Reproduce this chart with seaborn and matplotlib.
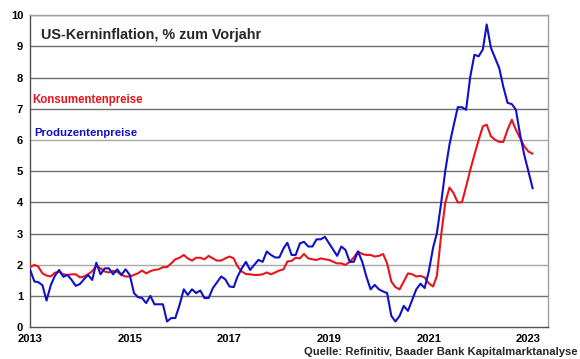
import numpy as np
import pandas as pd
import matplotlib
matplotlib.use('Agg')
import matplotlib.pyplot as plt
import matplotlib.dates as mdates
import seaborn as sns

# monthly values, Jan 2013 .. Feb 2023
months = pd.date_range('2013-01-01', '2023-02-01', freq='MS')

konsumentenpreise = [
    1.93, 2.00, 1.95, 1.73, 1.66, 1.63, 1.75, 1.78, 1.70, 1.68, 1.70, 1.70,
    1.60, 1.63, 1.70, 1.80, 1.97, 1.89, 1.79, 1.76, 1.81, 1.78, 1.68, 1.63,
    1.63, 1.68, 1.73, 1.82, 1.73, 1.80, 1.84, 1.86, 1.93, 1.93, 2.05, 2.18,
    2.23, 2.32, 2.21, 2.14, 2.23, 2.23, 2.18, 2.29, 2.21, 2.14, 2.14, 2.21,
    2.27, 2.21, 1.95, 1.79, 1.71, 1.70, 1.68, 1.68, 1.70, 1.76, 1.70, 1.76,
    1.82, 1.86, 2.11, 2.13, 2.23, 2.21, 2.35, 2.21, 2.18, 2.16, 2.21, 2.18,
    2.16, 2.10, 2.05, 2.05, 2.00, 2.10, 2.24, 2.43, 2.35, 2.32, 2.32, 2.27,
    2.29, 2.35, 2.05, 1.47, 1.29, 1.22, 1.47, 1.73, 1.70, 1.63, 1.65, 1.60,
    1.41, 1.31, 1.65, 2.95, 3.98, 4.48, 4.30, 4.00, 4.01, 4.51, 5.05, 5.53,
    6.00, 6.44, 6.49, 6.12, 6.01, 5.94, 5.94, 6.33, 6.65, 6.33, 6.06, 5.80,
    5.63, 5.56,
]

produzentenpreise = [
    1.84, 1.47, 1.45, 1.35, 0.86, 1.35, 1.65, 1.84, 1.62, 1.68, 1.52, 1.33,
    1.39, 1.55, 1.68, 1.52, 2.07, 1.70, 1.89, 1.89, 1.70, 1.86, 1.68, 1.86,
    1.68, 1.10, 0.97, 0.94, 0.78, 1.01, 0.74, 0.74, 0.74, 0.19, 0.30, 0.30,
    0.72, 1.22, 1.04, 1.22, 1.10, 1.18, 0.94, 0.94, 1.26, 1.44, 1.63, 1.54,
    1.31, 1.29, 1.63, 1.89, 2.10, 1.84, 2.00, 2.16, 2.10, 2.43, 2.32, 2.24,
    2.24, 2.53, 2.71, 2.32, 2.32, 2.69, 2.74, 2.59, 2.59, 2.82, 2.82, 2.90,
    2.69, 2.48, 2.29, 2.59, 2.48, 2.10, 2.10, 2.43, 2.10, 1.63, 1.22, 1.36,
    1.22, 1.15, 1.10, 0.37, 0.19, 0.37, 0.69, 0.53, 0.88, 1.22, 1.40, 1.26,
    1.80, 2.55, 3.02, 3.98, 5.00, 5.85, 6.45, 7.05, 7.05, 6.97, 8.04, 8.73,
    8.68, 8.90, 9.70, 8.95, 8.63, 8.30, 7.70, 7.19, 7.15, 6.97, 6.17, 5.53,
    4.99, 4.45,
]

series_names = ['Konsumentenpreise', 'Produzentenpreise']
title = 'US-Kerninflation, % zum Vorjahr'
source = 'Quelle: Refinitiv, Baader Bank Kapitalmarktanalyse'
year_ticks = [2013, 2015, 2017, 2019, 2021, 2023]
y_ticks = list(range(0, 11))

df = pd.DataFrame({
    'Datum': list(months) * 2,
    'Wert': konsumentenpreise + produzentenpreise,
    'Reihe': [series_names[0]] * len(months) + [series_names[1]] * len(months),
})

sns.set_style('white')
plt.rcParams['font.family'] = ['Liberation Sans', 'DejaVu Sans']

red = '#e8141c'
blue = '#1010c8'

fig = plt.figure(figsize=(5.8, 3.59), dpi=100)
ax = fig.add_axes([0.052, 0.088, 0.893, 0.870])

for y in y_ticks[1:]:
    ax.axhline(y, color='#a8a8a8' if y in (2, 6) else '#707070', lw=1.0, zorder=1)

sns.lineplot(data=df, x='Datum', y='Wert', hue='Reihe', palette=[red, blue],
             linewidth=1.5, legend=False, ax=ax, zorder=3)

ax.set_xlim(pd.Timestamp('2013-01-01'), pd.Timestamp('2023-05-25'))
ax.set_ylim(0, 10)
ax.set_xticks([pd.Timestamp(f'{y}-01-01') for y in year_ticks])
ax.xaxis.set_major_formatter(mdates.DateFormatter('%Y'))
ax.set_yticks(y_ticks)
ax.set_xlabel('')
ax.set_ylabel('')

ax.tick_params(axis='both', labelsize=8, length=3, width=0.8, colors='#404040',
               labelcolor='black', pad=2)
for lab in ax.get_xticklabels() + ax.get_yticklabels():
    lab.set_fontweight('bold')

for side in ['left', 'bottom']:
    ax.spines[side].set_color('#505050')
    ax.spines[side].set_linewidth(1.0)
for side in ['top', 'right']:
    ax.spines[side].set_color('#a0a0a0')
    ax.spines[side].set_linewidth(1.0)

ax.text(0.02, 0.958, title, transform=ax.transAxes, fontsize=10.4,
        fontweight='bold', ha='left', va='top')
ax.text(0.004, 0.728, series_names[0], transform=ax.transAxes, fontsize=8.3,
        fontweight='bold', color=red, ha='left', va='center')
ax.text(0.008, 0.624, series_names[1], transform=ax.transAxes, fontsize=8.2,
        fontweight='bold', color=blue, ha='left', va='center')

fig.text(0.995, 0.005, source, fontsize=8.1, fontweight='bold', ha='right', va='bottom')

fig.savefig('out.png', dpi=100)
